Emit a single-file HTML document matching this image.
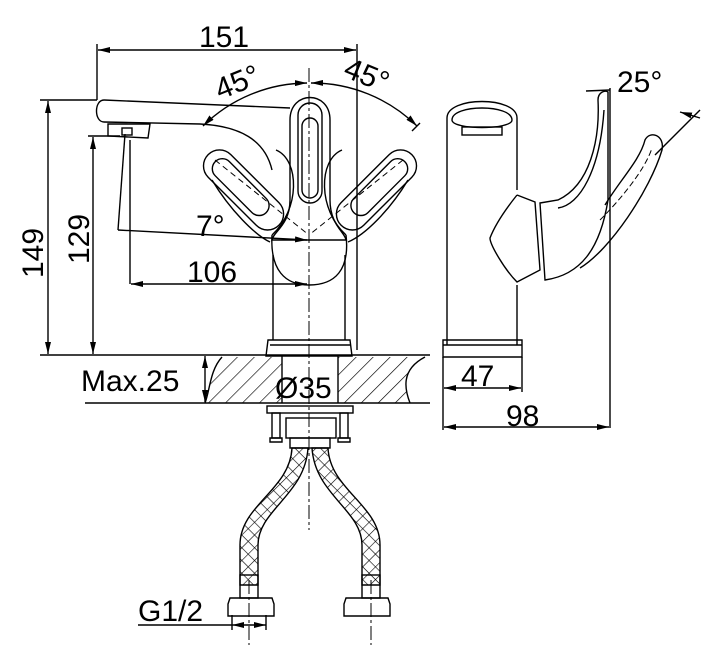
<!DOCTYPE html>
<html><head><meta charset="utf-8"><style>
html,body{margin:0;padding:0;background:#fff;}
svg{display:block;}
text{font-family:"Liberation Sans",sans-serif;fill:#000;}
</style></head><body>
<svg width="720" height="655" viewBox="0 0 720 655" xmlns="http://www.w3.org/2000/svg">
<defs>
<marker id="a" markerWidth="12" markerHeight="6" refX="12" refY="3" orient="auto-start-reverse" markerUnits="userSpaceOnUse"><path d="M0,0 L12,3 L0,6 z" fill="#000"/></marker>
<pattern id="h" width="12" height="12" patternUnits="userSpaceOnUse" patternTransform="rotate(45)"><line x1="0" y1="0" x2="0" y2="12" stroke="#000" stroke-width="1.3"/></pattern>
<pattern id="x" width="9" height="9" patternUnits="userSpaceOnUse" patternTransform="rotate(45)"><path d="M0,0 H9 M0,0 V9" stroke="#000" stroke-width="1.2" fill="none"/></pattern>
</defs>
<g fill="none" stroke="#000" stroke-width="1.4">
<line x1="97" y1="44" x2="97" y2="100"/>
<line x1="357" y1="44" x2="357" y2="350"/>
<line x1="98" y1="50" x2="356" y2="50" marker-start="url(#a)" marker-end="url(#a)"/>
<line x1="40" y1="100" x2="97" y2="100"/>
<line x1="40" y1="355" x2="430" y2="355"/>
<line x1="48" y1="101" x2="48" y2="354" marker-start="url(#a)" marker-end="url(#a)"/>
<line x1="88" y1="136" x2="120" y2="136"/>
<line x1="93" y1="137" x2="93" y2="354" marker-start="url(#a)" marker-end="url(#a)"/>
<path d="M104,100 L290,108 M104,122 L200,124 C240,126 265,140 272,170"/>
<path d="M104,100 C94,100 94,122 104,122"/>
<path d="M108,124 L150,124 L148,138 L108,136 Z"/>
<rect x="122" y="128" width="10" height="7"/>
<line x1="125" y1="134" x2="118" y2="230"/>
<line x1="118" y1="230" x2="307" y2="240" marker-end="url(#a)"/>
<line x1="130" y1="140" x2="130" y2="284"/>
<line x1="131" y1="284" x2="307" y2="284" marker-start="url(#a)" marker-end="url(#a)"/>
<path d="M203,126 A150,150 0 0 1 307,83" marker-start="url(#a)" marker-end="url(#a)"/>
<path d="M311,83 A150,150 0 0 1 417,126" marker-start="url(#a)" marker-end="url(#a)"/>
<line x1="420" y1="123" x2="412" y2="131"/>
<path d="M273,255 L273,340 M345,255 L345,340"/>
<path d="M268,340 L350,340 L352,356 L266,356 Z"/>
<line x1="270" y1="345" x2="350" y2="345"/>
<path d="M272,235 C270,270 285,285 309,285 C335,285 350,270 346,235"/>
<path d="M276,150 C300,160 300,210 272,235"/>
<path d="M342,150 C318,160 318,210 346,235"/>
<path d="M290,120 C290,90 330,90 330,120 L330,200 C330,225 345,232 346,240 L272,240 C273,232 290,225 290,200 Z"/>
<rect x="298" y="103" width="24" height="100" rx="12"/>
<rect x="302" y="118" width="16" height="80" rx="8"/>
<g transform="rotate(45 240 185)"><rect x="196" y="170" width="100" height="32" rx="16"/><rect x="206" y="176" width="72" height="20" rx="10"/></g>
<path d="M212,180 C230,210 255,235 270,242"/>
<g transform="rotate(-45 380 185)"><rect x="324" y="170" width="100" height="32" rx="16"/><rect x="342" y="176" width="72" height="20" rx="10"/></g>
<path d="M408,180 C390,210 365,235 348,242"/>
<g stroke-dasharray="6,4" stroke-width="1"><line x1="215" y1="160" x2="309" y2="235"/><line x1="403" y1="160" x2="309" y2="235"/></g>
<path d="M222,357 C210,370 210,390 205,403 L282,403 L282,357 Z" fill="url(#h)" stroke="none"/>
<path d="M338,357 L338,403 L410,403 C405,390 400,370 425,357 Z" fill="url(#h)" stroke="none"/>
<path d="M222,357 C210,370 210,390 205,403 M425,357 C400,370 405,390 410,403"/>
<line x1="85" y1="403" x2="430" y2="403"/>
<line x1="282" y1="355" x2="282" y2="403"/><line x1="338" y1="355" x2="338" y2="403"/>
<line x1="205" y1="356" x2="205" y2="402" marker-start="url(#a)" marker-end="url(#a)"/>
<rect x="267" y="406" width="86" height="7"/>
<rect x="272" y="413" width="8" height="25"/><rect x="340" y="413" width="8" height="25"/>
<path d="M270,438 h12 v4 h-12 z M338,438 h12 v4 h-12 z"/>
<rect x="286" y="418" width="50" height="20"/>
<rect x="290" y="438" width="40" height="10"/>
<path d="M292,448 C290,490 240,505 240,545 L240,585 L258,585 L258,545 C258,510 305,495 308,448 Z" fill="url(#x)"/>
<path d="M328,448 C330,490 380,505 380,545 L380,585 L362,585 L362,545 C362,510 315,495 312,448 Z" fill="url(#x)"/>
<rect x="240" y="575" width="18" height="23"/><rect x="362" y="575" width="18" height="23"/>
<path d="M230,598 h42 l2,6 v12 h-46 v-12 z"/><path d="M346,598 h42 l2,6 v12 h-46 v-12 z"/>
<line x1="232" y1="625" x2="266" y2="625" marker-start="url(#a)" marker-end="url(#a)"/>
<line x1="138" y1="625" x2="232" y2="625"/>
<line x1="232" y1="615" x2="232" y2="630"/><line x1="266" y1="615" x2="266" y2="630"/>
<g stroke-width="1" stroke-dasharray="14,3,3,3">
<line x1="309" y1="68" x2="309" y2="530"/>
<line x1="249" y1="580" x2="249" y2="645"/><line x1="371" y1="580" x2="371" y2="645"/>
</g>
<path d="M447,345 L447,118 C447,96 517,96 517,118 L517,190 M517,285 L517,345"/>
<path d="M452,120 C452,104 512,104 512,120 C512,130 452,130 452,120 Z"/>
<rect x="462" y="127" width="40" height="8"/>
<path d="M443,340 L522,340 L522,357 L443,357 Z"/><line x1="443" y1="345" x2="522" y2="345"/>
<path d="M517,195 L535,202 L540,270 L517,282 C505,270 490,245 490,238 C495,225 505,210 517,195"/>
<path d="M540,203 L558,200 C590,185 600,140 598,100 C598,92 605,90 608,92 L608,200 C600,250 580,275 545,280 Z"/>
<path d="M558,208 C580,205 600,170 604,110"/>
<path d="M605,205 C620,180 640,160 645,140 C650,130 665,135 662,150 C650,190 610,250 580,268"/>
<g stroke-dasharray="6,3" stroke-width="1"><path d="M600,220 C620,200 645,170 652,148"/></g>
<line x1="586" y1="91" x2="610" y2="90"/>
<line x1="610" y1="88" x2="610" y2="428"/>
<line x1="655" y1="155" x2="700" y2="110"/>
<line x1="680" y1="112" x2="700" y2="118" marker-start="url(#a)"/>
<line x1="443" y1="357" x2="443" y2="430"/><line x1="522" y1="357" x2="522" y2="392"/>
<line x1="444" y1="388" x2="521" y2="388" marker-start="url(#a)" marker-end="url(#a)"/>
<line x1="444" y1="427" x2="609" y2="427" marker-start="url(#a)" marker-end="url(#a)"/>
</g>
<g font-size="30">
<text x="199" y="47">151</text>
<text transform="translate(43,278) rotate(-90)">149</text>
<text transform="translate(89,264) rotate(-90)">129</text>
<text transform="translate(220,100) rotate(-22)">45°</text>
<text transform="translate(342,76) rotate(22)">45°</text>
<text x="196" y="236">7°</text>
<text x="187" y="282">106</text>
<text x="81" y="391">Max.25</text>
<text x="275" y="398">Ø35</text>
<text x="138" y="621">G1/2</text>
<text x="461" y="386">47</text>
<text x="506" y="426">98</text>
<text x="617" y="92">25°</text>
</g>
</svg>
</body></html>
